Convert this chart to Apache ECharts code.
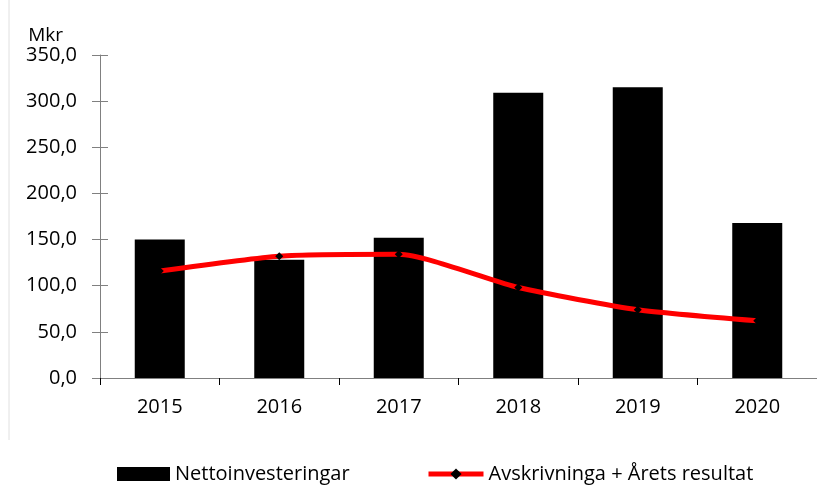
<!DOCTYPE html>
<html>
<head>
<meta charset="utf-8">
<script src="https://cdn.jsdelivr.net/npm/echarts@6/dist/echarts.min.js"></script>
<style>
  html, body { margin: 0; padding: 0; background: #fff; }
  #chart { width: 817px; height: 498px; }
</style>
</head>
<body>
<div id="chart"></div>
<script>
// år
var years = ['2015', '2016', '2017', '2018', '2019', '2020'];
// Nettoinvesteringar (Mkr)
var netto = [150, 128, 152, 309, 315, 168];
// Avskrivningar + Årets resultat (Mkr)
var avskr = [116, 132, 134, 98, 74, 62];

var chart = echarts.init(document.getElementById('chart'));
var font = '"Open Sans", "Liberation Sans", sans-serif';
var legendText = { fontSize: 20, color: '#000', fontFamily: font };

chart.setOption({
  animation: false,
  textStyle: { fontFamily: font },
  grid: { left: 100, right: 0, top: 55, bottom: 120, outerBoundsMode: 'none' },
  legend: [
    {
      top: 459, left: 112,
      itemWidth: 53, itemHeight: 14,
      textStyle: legendText,
      data: [{ name: 'Nettoinvesteringar', icon: 'rect' }]
    },
    {
      top: 459, left: 421,
      itemWidth: 55, itemHeight: 14,
      textStyle: legendText,
      lineStyle: { width: 5, color: '#ff0000' },
      data: ['Avskrivninga + Årets resultat']
    }
  ],
  xAxis: {
    type: 'category',
    data: years,
    axisLine: { lineStyle: { color: '#808080', width: 1 } },
    axisTick: { show: true, length: 7, lineStyle: { color: '#000' } },
    axisLabel: { fontSize: 20, color: '#000', margin: 19, fontFamily: font }
  },
  yAxis: [
    {
      type: 'value',
      min: 0,
      max: 350,
      interval: 50,
      name: 'Mkr',
      nameLocation: 'end',
      nameGap: 10,
      nameTextStyle: { fontSize: 19, color: '#000', align: 'right', padding: [0, 37, 0, 0], fontFamily: font },
      splitLine: { show: false },
      axisLine: { show: true, lineStyle: { color: '#808080', width: 1 } },
      axisTick: { show: true, length: 8, lineStyle: { color: '#808080' } },
      axisLabel: {
        fontSize: 20, color: '#000', margin: 23, fontFamily: font,
        formatter: function (v) { return v.toFixed(1).replace('.', ','); }
      }
    },
    {
      // bara inåtvända streck så att skalstrecken korsar axeln
      type: 'value',
      position: 'left',
      offset: 0,
      min: 0,
      max: 350,
      interval: 50,
      splitLine: { show: false },
      axisLine: { show: false },
      axisTick: { show: true, inside: true, length: 8, lineStyle: { color: '#808080' } },
      axisLabel: { show: false }
    }
  ],
  series: [
    {
      name: 'Nettoinvesteringar',
      type: 'bar',
      data: netto,
      barWidth: 50,
      itemStyle: { color: '#000' }
    },
    {
      name: 'Avskrivninga + Årets resultat',
      type: 'line',
      data: avskr,
      smooth: 0.2,
      symbol: 'diamond',
      symbolSize: 8,
      lineStyle: { color: '#ff0000', width: 5 },
      itemStyle: { color: '#000' },
      z: 3
    }
  ],
  graphic: [
    {
      type: 'line',
      shape: { x1: 9, y1: 0, x2: 9, y2: 440 },
      style: { stroke: '#e0e0e0', lineWidth: 1 }
    }
  ]
});
</script>
</body>
</html>
